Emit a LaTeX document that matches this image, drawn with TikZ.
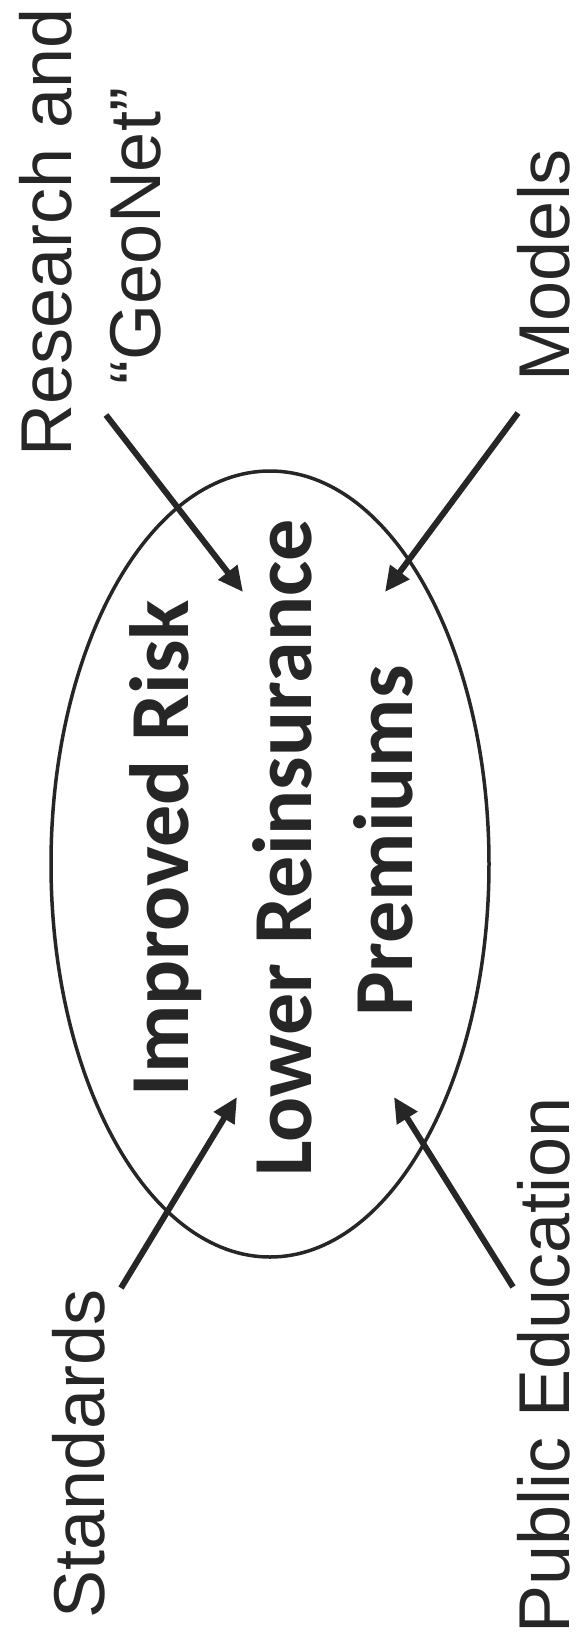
\documentclass[tikz,border=0pt]{standalone}
\usepackage{fontspec}
\setmainfont{Liberation Sans}
\newfontfamily\calfont{Carlito}
\usetikzlibrary{arrows.meta}

\begin{document}
\begin{tikzpicture}[x=1pt, y=-1pt, >={Triangle[length=25pt, width=23pt]},
	every node/.style={inner sep=0pt, rotate=90, anchor=base, text=black!85},
	side/.style={font=\fontsize{72}{86}\selectfont},
	core/.style={font=\calfont\bfseries\fontsize{84}{100}\selectfont},
	feed/.style={->, line width=6pt, black!85}]
	\useasboundingbox (0,0) rectangle (585,1652);
	\draw[line width=3.5pt, black!85] (270,864) ellipse (219 and 393);
	\node[core] (risk) at (188,848) {Improved Risk};
	\node[core] (reins) at (311,848) {Lower Reinsurance};
	\node[core] (prem) at (412,841) {Premiums};
	\node[side] (research) at (71,232) {Research and};
	\node[side] (geonet) at (160,236) {“GeoNet”};
	\node[side] (models) at (569,265) {Models};
	\node[side] (standards) at (104,1454) {Standards};
	\node[side] (public) at (569,1365) {Public Education};
	\coordinate (research-out) at (106,415);
	\coordinate (research-in) at (243,592);
	\coordinate (models-out) at (518,413);
	\coordinate (models-in) at (385,592);
	\coordinate (standards-out) at (121,1288);
	\coordinate (standards-in) at (237,1097);
	\coordinate (public-out) at (513,1287);
	\coordinate (public-in) at (394,1097);
	\draw[feed] (research-out) -- (research-in);
	\draw[feed] (models-out) -- (models-in);
	\draw[feed] (standards-out) -- (standards-in);
	\draw[feed] (public-out) -- (public-in);
\end{tikzpicture}
\end{document}
